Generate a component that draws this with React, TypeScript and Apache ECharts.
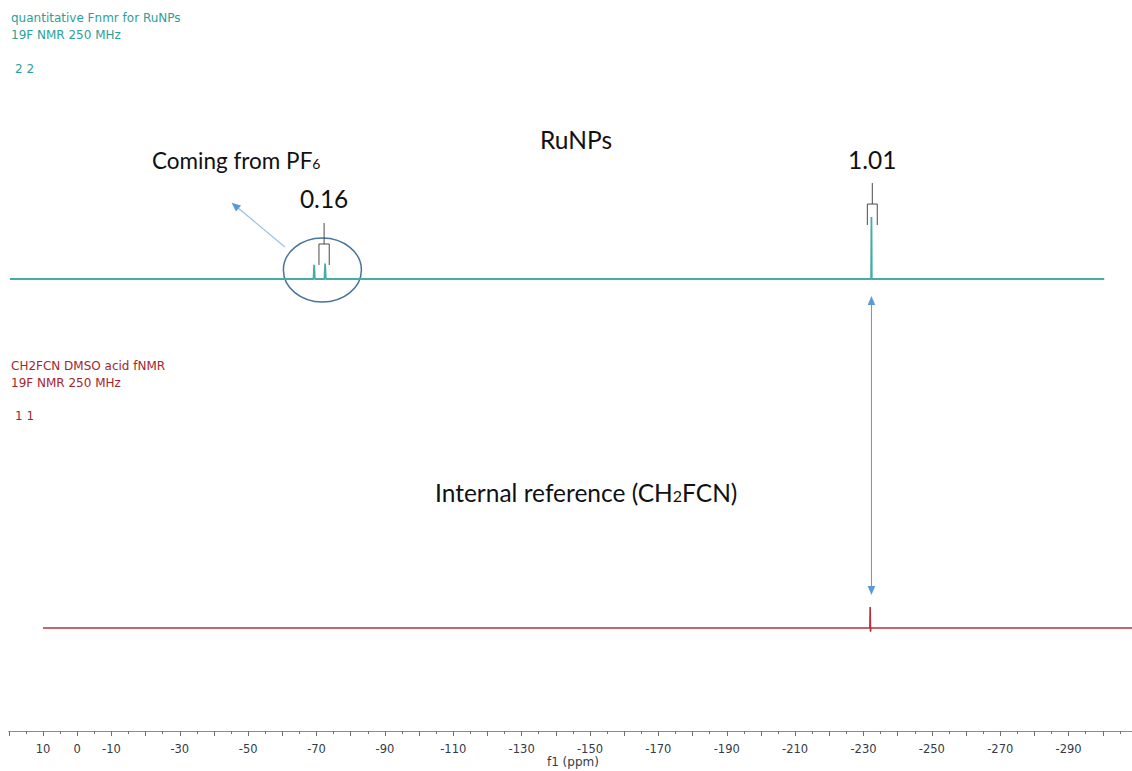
import React, { useEffect, useRef } from "react";
import * as echarts from "echarts";

// Chemical shift window of the f1 axis (ppm), drawn right-to-left
const PPM_MIN = -310;
const PPM_MAX = 20;

// 19F spectrum of the RuNPs sample: [ppm, intensity]
const runpsSpectrum: [number, number][] = [
  [19.7, 0],
  [-69.0, 0],
  [-69.2, 0.23],
  [-69.4, 0],
  [-72.2, 0],
  [-72.4, 0.25],
  [-72.6, 0],
  [-231.9, 0],
  [-232.0, 1.0],
  [-232.1, 0],
  [-300, 0],
];

// 19F spectrum of the CH2FCN internal reference: [ppm, intensity]
const referenceSpectrum: [number, number][] = [
  [10, 0],
  [-231.85, 0],
  [-231.95, 0.34],
  [-232.05, -0.06],
  [-232.15, 0],
  [-310, 0],
];

// Integral regions on the RuNPs trace: [from ppm, to ppm, integral, bracket foot level]
const integrals: [number, number, number, number][] = [
  [-70.6, -73.6, 0.16, 0.226],
  [-230.8, -233.7, 1.01, 0.87],
];

// Axis labels shown: 10, 0, -10 and then every 20 ppm
const labelledTicks = [10, 0, -10, -30, -50, -70, -90, -110, -130, -150, -170, -190, -210, -230, -250, -270, -290];

const TEAL_TEXT = "#2b9f9a";
const TEAL_LINE = "#45aca7";
const RED_TEXT = "#a3262e";
const RED_LINE = "#b3343c";
const ARROW = "#5b9bd5";
const ANNOT_FONT = "Lato, 'Open Sans', sans-serif";
const SMALL_FONT = "'DejaVu Sans', Verdana, sans-serif";

// The canvas is a little wider than the visible page so that the
// -310 … 20 ppm window lines up with the axis ends.
const CANVAS_W = 1140;
const CANVAS_H = 771;

function arrowHead(tip: [number, number], from: [number, number], len: number, half: number) {
  const dx = tip[0] - from[0];
  const dy = tip[1] - from[1];
  const d = Math.hypot(dx, dy);
  const ux = dx / d;
  const uy = dy / d;
  const bx = tip[0] - ux * len;
  const by = tip[1] - uy * len;
  return [
    tip,
    [bx - uy * half, by + ux * half],
    [bx + uy * half, by - ux * half],
  ];
}

export default function App() {
  const ref = useRef<HTMLDivElement>(null);

  useEffect(() => {
    if (!ref.current) return;
    const chart = echarts.init(ref.current, undefined, { renderer: "svg" });

    const gridLeft = 8.84;
    const gridWidth = 1129.6;

    const option: any = {
      animation: false,
      backgroundColor: "#ffffff",
      grid: [
        { left: gridLeft, width: gridWidth, top: 186, height: 124 },
        { left: gridLeft, width: gridWidth, top: 535, height: 124 },
      ],
      xAxis: [
        {
          type: "value",
          gridIndex: 0,
          min: PPM_MIN,
          max: PPM_MAX,
          inverse: true,
          show: false,
        },
        {
          type: "value",
          gridIndex: 1,
          min: PPM_MIN,
          max: PPM_MAX,
          inverse: true,
          interval: 10,
          offset: 72,
          position: "bottom",
          name: "f1 (ppm)",
          nameLocation: "middle",
          nameGap: 24,
          nameTextStyle: { fontFamily: SMALL_FONT, fontSize: 12, color: "#333b4a" },
          axisLine: { show: true, onZero: false, lineStyle: { color: "#8c8c8c", width: 1 } },
          axisTick: { show: true, length: 5, lineStyle: { color: "#6e6e6e", width: 1 } },
          minorTick: { show: true, splitNumber: 2, length: 3, lineStyle: { color: "#6e6e6e", width: 1 } },
          splitLine: { show: false },
          axisLabel: {
            margin: 12,
            fontFamily: SMALL_FONT,
            fontSize: 11.5,
            color: "#333b4a",
            formatter: (v: number) => (labelledTicks.indexOf(v) >= 0 ? String(v) : ""),
          },
        },
      ],
      yAxis: [
        { type: "value", gridIndex: 0, min: -0.5, max: 1.5, show: false },
        { type: "value", gridIndex: 1, min: -0.5, max: 1.5, show: false },
      ],
      series: [
        {
          type: "line",
          xAxisIndex: 0,
          yAxisIndex: 0,
          data: runpsSpectrum,
          showSymbol: false,
          clip: false,
          lineStyle: { color: TEAL_LINE, width: 1.8 },
        },
        {
          type: "line",
          xAxisIndex: 1,
          yAxisIndex: 1,
          data: referenceSpectrum,
          showSymbol: false,
          clip: false,
          lineStyle: { color: RED_LINE, width: 1.6 },
        },
        {
          type: "custom",
          xAxisIndex: 0,
          yAxisIndex: 0,
          data: integrals,
          clip: false,
          encode: { x: [0, 1], y: 3 },
          renderItem: (_params: any, api: any) => {
            const a = api.coord([api.value(0), api.value(3)]);
            const b = api.coord([api.value(1), api.value(3)]);
            const footY = a[1];
            const barY = footY - 21;
            const stemTop = barY - 21;
            const xm = (a[0] + b[0]) / 2;
            return {
              type: "group",
              children: [
                {
                  type: "polyline",
                  shape: { points: [[a[0], footY], [a[0], barY], [b[0], barY], [b[0], footY]] },
                  style: { stroke: "#4a4a4a", fill: "none", lineWidth: 1 },
                },
                {
                  type: "line",
                  shape: { x1: xm, y1: barY, x2: xm, y2: stemTop },
                  style: { stroke: "#4a4a4a", lineWidth: 1 },
                },
                {
                  type: "text",
                  x: xm,
                  y: stemTop - 24,
                  style: {
                    text: Number(api.value(2)).toFixed(2),
                    fontFamily: ANNOT_FONT,
                    fontSize: 24.5,
                    fill: "#111111",
                    align: "center",
                    verticalAlign: "middle",
                  },
                },
              ],
            };
          },
        },
      ],
    };

    chart.setOption(option);

    // Annotations tied to the chemical-shift scale
    const xRef = chart.convertToPixel({ xAxisIndex: 0 }, -232) as number;
    const xPF6 = chart.convertToPixel({ xAxisIndex: 0 }, -71.6) as number;

    const arrowTail: [number, number] = [xPF6 - 37.5, 247];
    const arrowTip: [number, number] = [xPF6 - 90.8, 202.7];

    const label = (text: string, x: number, y: number, fill: string) => ({
      type: "text",
      x,
      y,
      style: { text, fontFamily: SMALL_FONT, fontSize: 12, fill, verticalAlign: "middle" },
    });

    chart.setOption({
      graphic: [
        label("quantitative Fnmr for RuNPs", 11, 18, TEAL_TEXT),
        label("19F NMR 250 MHz", 11, 35, TEAL_TEXT),
        label("2 2", 15, 69, TEAL_TEXT),
        label("CH2FCN DMSO acid fNMR", 11, 366, RED_TEXT),
        label("19F NMR 250 MHz", 11, 383, RED_TEXT),
        label("1 1", 15, 416, RED_TEXT),
        {
          type: "text",
          x: 540,
          y: 139,
          style: { text: "RuNPs", fontFamily: ANNOT_FONT, fontSize: 24.5, fill: "#111111", verticalAlign: "middle" },
        },
        {
          type: "text",
          x: 152,
          y: 160,
          style: {
            text: "{n|Coming from PF}{s|6}",
            fill: "#111111",
            verticalAlign: "middle",
            rich: {
              n: { fontFamily: ANNOT_FONT, fontSize: 22.5, verticalAlign: "bottom", fill: "#111111" },
              s: { fontFamily: ANNOT_FONT, fontSize: 14, verticalAlign: "bottom", fill: "#111111", padding: [0, 0, 1, 0] },
            },
          },
        },
        {
          type: "text",
          x: 435,
          y: 492,
          style: {
            text: "{n|Internal reference (CH}{s|2}{n|FCN)}",
            fill: "#111111",
            verticalAlign: "middle",
            rich: {
              n: { fontFamily: ANNOT_FONT, fontSize: 24.5, verticalAlign: "bottom", fill: "#111111" },
              s: { fontFamily: ANNOT_FONT, fontSize: 16, verticalAlign: "bottom", fill: "#111111", padding: [0, 0, 1, 0] },
            },
          },
        },
        {
          type: "ellipse",
          shape: { cx: xPF6, cy: 270, rx: 39, ry: 32 },
          style: { fill: "none", stroke: "#46739f", lineWidth: 1.5 },
        },
        {
          type: "line",
          shape: { x1: arrowTail[0], y1: arrowTail[1], x2: arrowTip[0] + 5, y2: arrowTip[1] + 4 },
          style: { stroke: "#9cc2e5", lineWidth: 1.2 },
        },
        {
          type: "polygon",
          shape: { points: arrowHead(arrowTip, arrowTail, 9, 4) },
          style: { fill: ARROW },
        },
        {
          type: "line",
          shape: { x1: xRef, y1: 303, x2: xRef, y2: 588 },
          style: { stroke: ARROW, lineWidth: 1 },
        },
        {
          type: "polygon",
          shape: { points: arrowHead([xRef, 296], [xRef, 320], 9, 3.8) },
          style: { fill: ARROW },
        },
        {
          type: "polygon",
          shape: { points: arrowHead([xRef, 595], [xRef, 570], 9, 3.8) },
          style: { fill: ARROW },
        },
      ],
    });

    return () => chart.dispose();
  }, []);

  return (
    <div
      style={{
        position: "absolute",
        left: 0,
        top: 0,
        width: 1132,
        height: CANVAS_H,
        overflow: "hidden",
        background: "#ffffff",
      }}
    >
      <div ref={ref} style={{ width: CANVAS_W, height: CANVAS_H }} />
    </div>
  );
}
